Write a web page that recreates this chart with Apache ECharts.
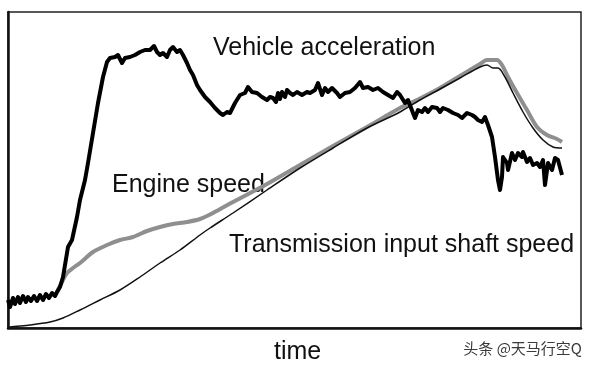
<!DOCTYPE html>
<html>
<head>
<meta charset="utf-8">
<script src="https://cdn.jsdelivr.net/npm/echarts@6/dist/echarts.min.js"></script>
<style>
html,body{margin:0;padding:0;background:#fff;}
#chart{width:593px;height:367px;}
</style>
</head>
<body>
<div id="chart"></div>
<script>
// time / value units (arbitrary units)
var vehicleAcceleration = [
[0,28],[2,21],[5,30],[7,24],[10,31],[12,25],[15,32],[18,26],[20,31],[23,27],[26,32],[29,27],[32,33],[35,28],[38,34],[41,30],[44,35],[47,32],[49,36],
[52,41],[55,51],[60,81],[64,88],[69,111],[72,128],[77,148],[80,165],[85,195],[90,225],[95,251],[99,266],
[102,270],[107,271],[110,273],[114,265],[117,270],[122,271],[127,273],[132,276],[137,278],[142,278],[146,282],[149,276],[152,273],[155,275],[159,271],[162,278],[165,281],[169,276],[172,278],[175,273],
[179,265],[182,258],[185,253],[189,243],[192,238],[197,231],[202,226],[207,220],[212,215],[215,213],[219,216],[222,215],[227,225],[232,233],[237,235],[240,241],[244,236],[249,235],[254,231],[259,228],[262,231],[265,230],[268,226],[270,235],[272,229],[274,236],[277,231],[279,238],[282,235],[285,233],[289,236],[294,233],[299,236],[302,235],[307,238],[310,245],[314,233],[317,240],[320,236],[324,240],[329,235],[332,231],[337,235],[342,236],[347,240],[352,246],[355,240],[360,241],[365,238],[370,240],[375,236],[380,233],[385,230],[389,236],[392,233],[397,225],[400,228],[402,226],[405,215],[407,210],[410,218],[414,216],[417,220],[420,216],[424,221],[429,220],[432,216],[435,220],[440,218],[445,215],[450,213],[454,210],[459,215],[464,213],[467,211],[470,208],[474,206],[477,211],[480,203],[484,191],[487,171],[490,148],[492,138],[494,151],[495,171],[499,165],[500,158],[504,175],[507,168],[510,175],[514,171],[515,176],[519,166],[522,170],[525,163],[529,165],[532,161],[535,168],[537,143],[540,165],[544,158],[547,170],[550,168],[554,153]
];
var engineSpeed = [
[49,36],[54,46],[59,55],[65,60],[72,65],[85,76],[99,83],[112,88],[125,91],[139,97],[152,101],[165,104],[179,106],[192,109],[205,115],[225,126],[259,144],[292,163],[325,182],[359,201],[392,220],[409,228],[432,240],[452,252],[472,264],[479,268],[489,268],[494,263],[500,251],[509,235],[519,218],[529,201],[539,193],[549,189],[554,186]
];
var shaftSpeed = [
[0,0],[2,1],[22,3],[42,6],[55,10],[72,18],[92,28],[112,38],[132,51],[152,65],[172,78],[192,93],[202,100],[225,115],[259,138],[292,160],[325,180],[359,200],[392,216],[412,228],[432,239],[452,250],[472,261],[479,263],[485,260],[490,260],[497,251],[505,235],[515,216],[525,200],[535,188],[545,181],[554,180]
];
var labels = {
  accel: 'Vehicle acceleration',
  engine: 'Engine speed',
  shaft: 'Transmission input shaft speed',
  xName: 'time',
  mark: '头条 @天马行空Q'
};

var chart = echarts.init(document.getElementById('chart'), null, {renderer: 'canvas'});
var font = '"Liberation Sans", Arial, sans-serif';
chart.setOption({
  animation: false,
  backgroundColor: '#fff',
  grid: {left: 8, right: 12, top: 12, bottom: 39, show: true, borderColor: '#222', borderWidth: 1.5},
  xAxis: {
    type: 'value', min: 0, max: 573,
    axisLine: {show: true, onZero: false, lineStyle: {color: '#111', width: 2.5}},
    axisTick: {show: false}, axisLabel: {show: false}, splitLine: {show: false}
  },
  yAxis: {
    type: 'value', min: 0, max: 316,
    axisLine: {show: true, onZero: false, lineStyle: {color: '#111', width: 2.5}},
    axisTick: {show: false}, axisLabel: {show: false}, splitLine: {show: false}
  },
  series: [
    {type: 'line', data: shaftSpeed, showSymbol: false, smooth: 0.3, lineStyle: {color: '#111', width: 1.5}, z: 2},
    {type: 'line', data: engineSpeed, showSymbol: false, smooth: 0.3, lineStyle: {color: '#8f8f8f', width: 4}, z: 1},
    {type: 'line', data: vehicleAcceleration, showSymbol: false, lineStyle: {color: '#000', width: 4, join: 'round'}, z: 3}
  ],
  graphic: [
    {type: 'text', left: 213, top: 36, style: {text: labels.accel, font: '25px ' + font, fill: '#111'}},
    {type: 'text', left: 112, top: 173, style: {text: labels.engine, font: '25px ' + font, fill: '#111'}},
    {type: 'text', left: 229, top: 233, style: {text: labels.shaft, font: '25px ' + font, fill: '#111'}},
    {type: 'text', left: 274, top: 340, style: {text: labels.xName, font: '25px ' + font, fill: '#111'}},
    {type: 'text', right: 11, top: 341, style: {text: labels.mark, font: '15px "Noto Sans CJK SC", sans-serif', fill: '#3a3a3a'}}
  ]
});
</script>
</body>
</html>
